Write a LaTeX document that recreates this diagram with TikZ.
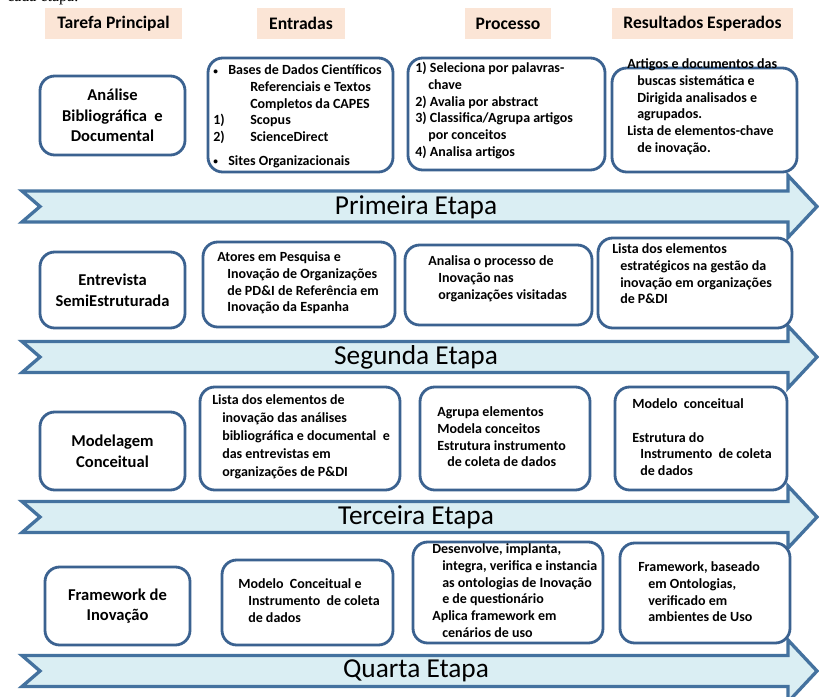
\documentclass[tikz,border=0pt]{standalone}
\usepackage{fontspec}
\setmainfont{Carlito}
\newfontfamily\pageserif{Liberation Serif}
\usetikzlibrary{fit}

% one drawing unit = one pixel of the 819 x 697 canvas
\newlength\pxu
\setlength\pxu{0.75pt}
\newcommand\ind[1][10]{\hspace*{#1\pxu}}
\newcommand\smallbullet{\makebox[15\pxu][l]{\raisebox{0.5pt}{\fontsize{7}{7}\selectfont•}}}

\definecolor{hdrfill}{HTML}{FBE5D6}
\definecolor{bandfill}{HTML}{DAEEF3}
\definecolor{bandline}{HTML}{44729F}
\definecolor{cardline}{HTML}{3B6290}

\tikzset{
  card/.style={draw=cardline, line width=2.1pt, rounded corners=11pt, fill=white, inner sep=0pt},
  hdrbox/.style={fill=hdrfill, inner sep=0pt},
  hdrtext/.style={font=\bfseries\fontsize{13.2}{15}\selectfont, inner sep=0pt},
  tasktext/.style={font=\bfseries\fontsize{12.4}{15.5}\selectfont, align=center, inner sep=0pt},
  cardtext/.style={font=\bfseries\fontsize{10.5}{12.5}\selectfont, align=left, anchor=north west, inner sep=0pt},
  band/.style={draw=bandline, line width=2.5pt, fill=bandfill, line join=miter},
  bandtext/.style={font=\fontsize{20.5}{24}\selectfont, inner sep=0pt},
}

\begin{document}
\begin{tikzpicture}[x=0.75pt, y=-0.75pt]
\useasboundingbox (0,0) rectangle (819,697);
\clip (0,0) rectangle (819,697);
\fill[white] (0,0) rectangle (819,697);

% running text of the page above the figure
\node[font=\pageserif\fontsize{12}{14}\selectfont, anchor=base west, inner sep=0pt] (pagetext) at (7,1) {cada etapa.};

% column headings
\node[hdrbox, fit={(45,8) (182,39)}] (h1) {};
\node[hdrbox, fit={(257,8) (345,39)}] (h2) {};
\node[hdrbox, fit={(465,8) (551,39)}] (h3) {};
\node[hdrbox, fit={(612,8) (793,39)}] (h4) {};
\node[hdrtext] (h1txt) at (h1) {Tarefa Principal};
\node[hdrtext] (h2txt) at (h2) {Entradas};
\node[hdrtext] (h3txt) at (h3) {Processo};
\node[hdrtext] (h4txt) at (h4) {Resultados Esperados};

% stage bands
\foreach \c in {206.5,357,517,671}{
  \draw[band] (22,\c-15.5) -- (788,\c-15.5) -- (788,\c-31) -- (817,\c) -- (788,\c+31)
     -- (788,\c+15.5) -- (22,\c+15.5) -- (40,\c) -- cycle;
}
\node[bandtext] (s1) at (416,207) {Primeira Etapa};
\node[bandtext] (s2) at (416,357) {Segunda Etapa};
\node[bandtext] (s3) at (416,517) {Terceira Etapa};
\node[bandtext] (s4) at (416,671) {Quarta Etapa};

% ---------- first stage ----------
\node[card, fit={(40,76) (185,155)}] (t1) {};
\node[tasktext] (t1txt) at (t1) {Análise\\Bibliográfica\ \ e\\Documental};
\node[card, fit={(208,58) (393,172)}] (e1) {};
\node[cardtext] (e1txt) at (213,63) {\strut\smallbullet Bases de Dados Científicos\\
  \ind[37]Referenciais e Textos\\
  \ind[37]Completos da CAPES\\
  \makebox[37\pxu][l]{1)}Scopus\\
  \makebox[37\pxu][l]{2)}ScienceDirect\\[5.5pt]
  \smallbullet Sites Organizacionais};
\node[card, fit={(408,58) (605,170)}] (p1) {};
\node[cardtext] (p1txt) at (415,61) {\strut 1)\ Seleciona por palavras-\\
  \ind[13]chave\\
  2)\ Avalia por abstract\\
  3) Classifica/Agrupa artigos\\
  \ind[13]por conceitos\\
  4)\ Analisa artigos};
\node[card, fit={(612,68) (797,172)}] (r1) {};
\node[cardtext] (r1txt) at (627,57) {\strut Artigos e documentos\ das\\
  \ind buscas sistemática e\\
  \ind Dirigida analisados\ e\\
  \ind agrupados.\\
  Lista de elementos-chave\\
  \ind de inovação.};

% ---------- second stage ----------
\node[card, fit={(40,252) (185,328)}] (t2) {};
\node[tasktext] (t2txt) at (t2) {Entrevista\\SemiEstruturada};
\node[card, fit={(203,242) (395,327)}] (e2) {};
\node[cardtext] (e2txt) at (217,250) {\strut Atores em Pesquisa e\\
  \ind Inovação de Organizações\\
  \ind de PD\&I de Referência em\\
  \ind Inovação da Espanha};
\node[card, fit={(405,245) (592,325)}] (p2) {};
\node[cardtext] (p2txt) at (428,254) {\strut Analisa o processo de\\
  \ind Inovação nas\\
  \ind organizações visitadas};
\node[card, fit={(598,238) (792,328)}] (r2) {};
\node[cardtext] (r2txt) at (612,242) {\strut Lista dos elementos\\
  \ind[8]estratégicos na gestão da\\
  \ind[8]inovação em organizações\\
  \ind[8]de P\&DI};

% ---------- third stage ----------
\node[card, fit={(40,412) (185,490)}] (t3) {};
\node[tasktext] (t3txt) at (t3) {Modelagem\\Conceitual};
\node[card, fit={(200,387) (400,490)}] (e3) {};
\node[cardtext, font=\bfseries\fontsize{10.5}{13.5}\selectfont] (e3txt) at (212,392) {\strut Lista dos elementos de\\
  \ind inovação das análises\\
  \ind bibliográfica e documental\ \ e\\
  \ind das entrevistas em\\
  \ind organizações de P\&DI};
\node[card, fit={(420,387) (590,490)}] (p3) {};
\node[cardtext] (p3txt) at (437,405) {\strut Agrupa elementos\\
  Modela conceitos\\
  Estrutura instrumento\\
  \ind de coleta de dados};
\node[card, fit={(615,387) (787,490)}] (r3) {};
\node[cardtext] (r3txt) at (632,397) {\strut Modelo\ \ conceitual\\[12.5pt]
  Estrutura do\\
  \ind[8]Instrumento\ \ de coleta\\
  \ind[8]de dados};

% ---------- fourth stage ----------
\node[card, fit={(45,567) (190,645)}] (t4) {};
\node[tasktext] (t4txt) at (t4) {Framework de\\Inovação};
\node[card, fit={(222,560) (393,645)}] (e4) {};
\node[cardtext] (e4txt) at (238,577) {\strut Modelo\ \ Conceitual e\\
  \ind Instrumento\ \ de coleta\\
  \ind de dados};
\node[card, fit={(413,542) (603,643)}] (p4) {};
\node[cardtext] (p4txt) at (432,542) {\strut Desenvolve, implanta,\\
  \ind integra, verifica e instancia\\
  \ind as ontologias de Inovação\\
  \ind e de questionário\\
  Aplica framework em\\
  \ind cenários de uso};
\node[card, fit={(620,543) (790,643)}] (r4) {};
\node[cardtext] (r4txt) at (638,560) {\strut Framework, baseado\\
  \ind em Ontologias,\\
  \ind verificado em\\
  \ind ambientes de Uso};
\end{tikzpicture}
\end{document}
